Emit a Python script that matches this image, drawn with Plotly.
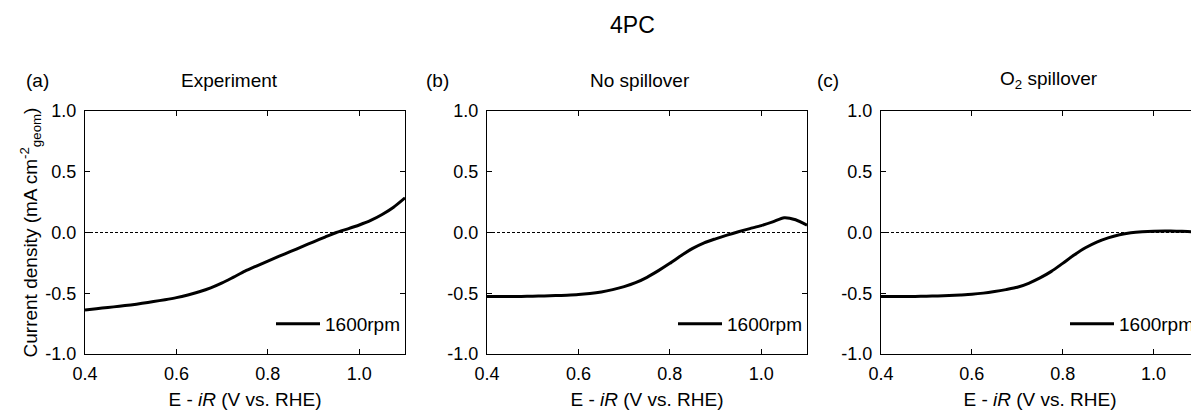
import plotly.graph_objects as go

# ---------------- data ----------------
potential = [0.400, 0.425, 0.450, 0.475, 0.500, 0.525, 0.550, 0.575, 0.600, 0.625,
             0.650, 0.675, 0.700, 0.725, 0.750, 0.775, 0.800, 0.825, 0.850, 0.875,
             0.900, 0.925, 0.950, 0.975, 1.000, 1.025, 1.050, 1.075, 1.100]

y_exp = [-0.637, -0.627, -0.617, -0.607, -0.596, -0.583, -0.568, -0.553, -0.536, -0.514,
         -0.488, -0.456, -0.415, -0.367, -0.318, -0.276, -0.235, -0.195, -0.156, -0.116,
         -0.077, -0.038, 0.000, 0.030, 0.062, 0.099, 0.148, 0.208, 0.285]

y_nospill = [-0.527, -0.527, -0.527, -0.526, -0.525, -0.522, -0.519, -0.516, -0.511, -0.502,
             -0.489, -0.470, -0.445, -0.413, -0.369, -0.314, -0.254, -0.189, -0.131, -0.085,
             -0.052, -0.022, 0.006, 0.032, 0.057, 0.087, 0.122, 0.105, 0.060]

y_o2 = [-0.527, -0.527, -0.527, -0.526, -0.525, -0.522, -0.519, -0.514, -0.508, -0.499,
        -0.486, -0.470, -0.451, -0.418, -0.374, -0.320, -0.254, -0.186, -0.126, -0.079,
        -0.044, -0.019, -0.003, 0.006, 0.011, 0.012, 0.011, 0.008, 0.005]

series_name = "1600rpm"
panel_titles = ["Experiment", "No spillover", "O<sub>2</sub> spillover"]
panel_labels = ["(a)", "(b)", "(c)"]
main_title = "4PC"

x_tickvals = [0.4, 0.6, 0.8, 1.0]
x_ticktext = ["0.4", "0.6", "0.8", "1.0"]
y_tickvals = [-1.0, -0.5, 0.0, 0.5, 1.0]
y_ticktext = ["-1.0", "-0.5", "0.0", "0.5", "1.0"]
x_range = [0.4, 1.1]
y_range = [-1.0, 1.0]

# ---------------- figure ----------------
OFF = 8                      # default page body margin
W, H = 1199 - OFF, 411 - OFF
FONT = "Liberation Sans, Arial, sans-serif"


def px(xp):
    return (xp - OFF) / W


def py(yp):
    return 1 - (yp - OFF) / H


fig = go.Figure()

panels = [y_exp, y_nospill, y_o2]
xdomains = [[px(85), px(405)], [px(487), px(807)], [px(881), 1.0]]
ydomain = [py(354), py(111)]
legend_keys = ["legend", "legend2", "legend3"]

for i, ys in enumerate(panels):
    sfx = "" if i == 0 else str(i + 1)
    fig.add_trace(go.Scatter(
        x=potential, y=ys, mode="lines", name=series_name,
        line=dict(color="black", width=3, shape="spline", smoothing=0.7),
        xaxis="x" + sfx, yaxis="y" + sfx, legend=legend_keys[i],
    ))

axis_common = dict(
    showline=True, mirror="ticks", linecolor="black", linewidth=1,
    ticks="inside", ticklen=5, tickcolor="black", tickwidth=1,
    showgrid=False, zeroline=False, automargin=False,
    tickfont=dict(family=FONT, size=18, color="black"),
)

layout = dict(
    width=W, height=H,
    margin=dict(l=0, r=0, t=0, b=0, autoexpand=False),
    paper_bgcolor="white", plot_bgcolor="white",
    font=dict(family=FONT, color="black"),
    showlegend=True,
)

for i in range(3):
    sfx = "" if i == 0 else str(i + 1)
    xa = dict(axis_common, domain=xdomains[i], range=x_range,
              tickvals=x_tickvals, ticktext=x_ticktext,
              anchor="y" + sfx, ticklabelstandoff=3,
              title=dict(text="E - <i>iR</i> (V vs. RHE)",
                         font=dict(family=FONT, size=19, color="black"),
                         standoff=10))
    ya = dict(axis_common, domain=ydomain, range=y_range,
              tickvals=y_tickvals, ticktext=y_ticktext,
              anchor="x" + sfx, ticklabelstandoff=4)
    if i == 0:
        ya["title"] = dict(text="Current density (mA cm<sup>-2</sup><sub>geom</sub>)",
                           font=dict(family=FONT, size=19, color="black"),
                           standoff=2)
    layout["xaxis" + sfx] = xa
    layout["yaxis" + sfx] = ya
    layout[legend_keys[i]] = dict(
        x=xdomains[i][1], xanchor="right",
        y=py(324), yanchor="middle",
        bgcolor="rgba(0,0,0,0)", borderwidth=0,
        font=dict(family=FONT, size=19, color="black"),
        itemwidth=44,
    )

fig.update_layout(**layout)

# zero reference lines
for i in range(3):
    sfx = "" if i == 0 else str(i + 1)
    fig.add_shape(type="line", xref="x" + sfx + " domain", yref="y" + sfx,
                  x0=0, x1=1, y0=0, y1=0,
                  line=dict(color="black", width=1, dash="3px,2px"))

# titles
fig.add_annotation(text=main_title, x=px(632), y=py(25), xref="paper", yref="paper",
                   showarrow=False, xanchor="center", yanchor="middle",
                   font=dict(family=FONT, size=23, color="black"))
title_cx = [229, 640, 1049]
label_cx = [37, 437, 828]
for i in range(3):
    fig.add_annotation(text=panel_titles[i], x=px(title_cx[i]), y=py(80),
                       xref="paper", yref="paper", showarrow=False,
                       xanchor="center", yanchor="middle",
                       font=dict(family=FONT, size=19, color="black"))
    fig.add_annotation(text=panel_labels[i], x=px(label_cx[i]), y=py(80),
                       xref="paper", yref="paper", showarrow=False,
                       xanchor="center", yanchor="middle",
                       font=dict(family=FONT, size=19, color="black"))

fig.write_html("out.html")
